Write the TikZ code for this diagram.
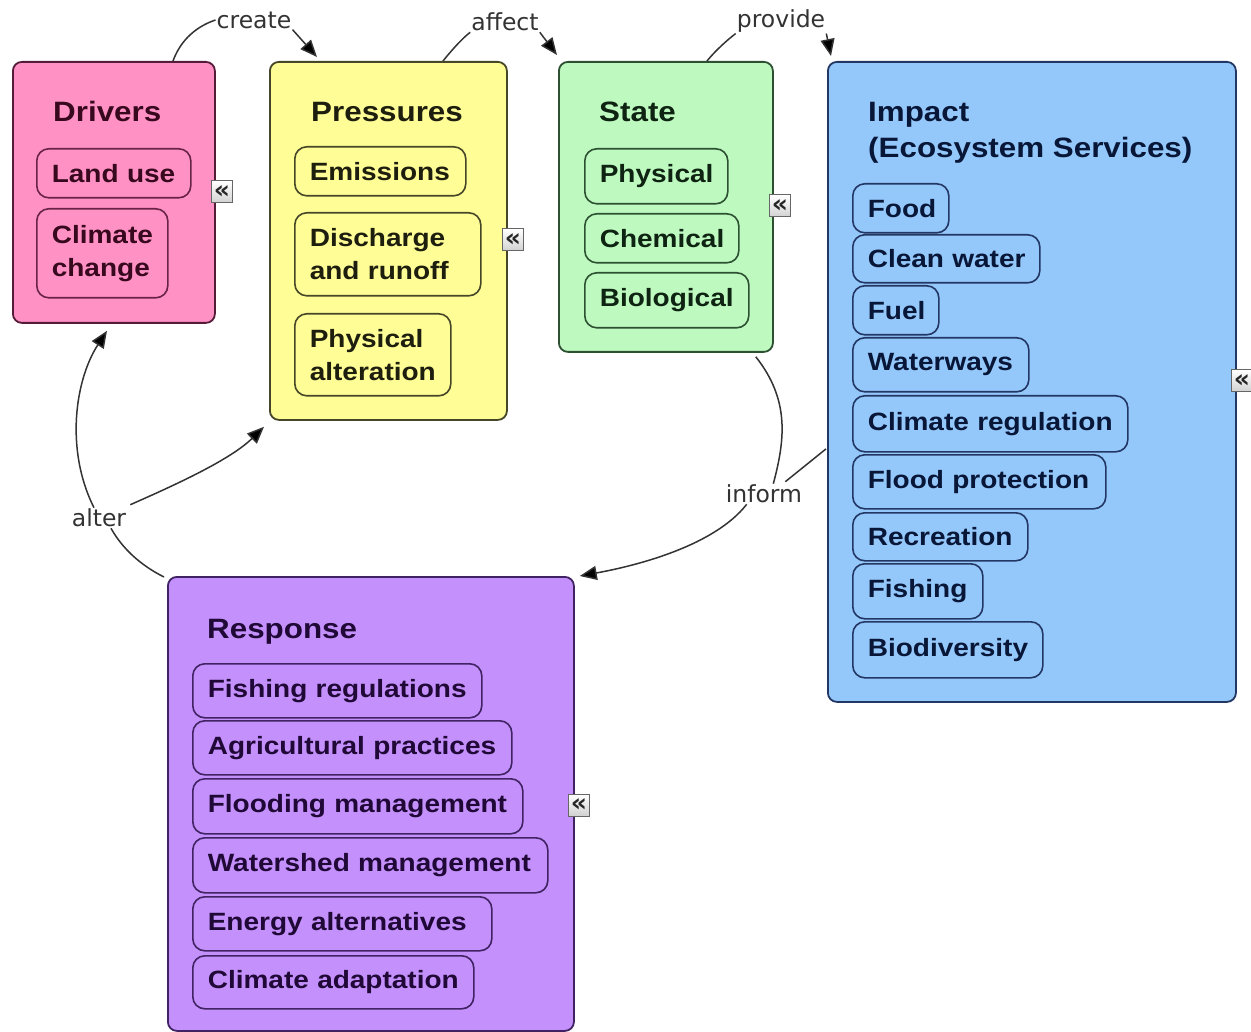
\documentclass[tikz,border=0pt]{standalone}
\usepackage{fontspec}
\setmainfont{Liberation Sans}[FakeStretch=1.12]
\newfontfamily\lblfont{DejaVu Sans}
\usetikzlibrary{arrows.meta,calc}
\hyphenpenalty=10000
\exhyphenpenalty=10000
\definecolor{drvfill}{RGB}{255,145,196}
\definecolor{drvline}{RGB}{105,35,70}
\definecolor{drvtext}{RGB}{55,8,30}
\definecolor{prsfill}{RGB}{255,253,150}
\definecolor{prsline}{RGB}{70,70,40}
\definecolor{prstext}{RGB}{30,30,15}
\definecolor{stafill}{RGB}{190,250,192}
\definecolor{staline}{RGB}{45,80,50}
\definecolor{statext}{RGB}{15,35,18}
\definecolor{impfill}{RGB}{148,199,250}
\definecolor{impline}{RGB}{35,55,100}
\definecolor{imptext}{RGB}{8,22,55}
\definecolor{resfill}{RGB}{196,145,252}
\definecolor{resline}{RGB}{65,35,100}
\definecolor{restext}{RGB}{32,8,55}
\tikzset{
  bigbox/.style={draw, line width=1.8pt, rounded corners=9pt, anchor=north west, inner sep=0pt},
  item/.style={draw, line width=1.6pt, rounded corners=12pt, anchor=north west, inner sep=0pt, align=left, font=\bfseries\fontsize{25}{33}\selectfont},
  iw/.style={minimum width=#1, text width=#1-30pt},
  ttl/.style={anchor=base west, inner sep=0pt, font=\bfseries\fontsize{28}{36}\selectfont},
  fold/.style={draw=black!60, top color=white, bottom color=black!18, line width=1pt, minimum width=21pt, minimum height=22pt, inner sep=0pt, font=\lblfont\bfseries\fontsize{25}{25}\selectfont, text=black!85},
  lbl/.style={font=\lblfont\fontsize{23.5}{24}\selectfont, text=black!80, inner sep=1pt},
  conn/.style={draw=black!80, line width=1.5pt},
  arr/.style={conn, -{Triangle[length=17pt,width=14pt,fill=black]}},
  drvitem/.style={item, fill=drvfill, draw=drvline, text=drvtext},
  prsitem/.style={item, fill=prsfill, draw=prsline, text=prstext},
  staitem/.style={item, fill=stafill, draw=staline, text=statext},
  impitem/.style={item, fill=impfill, draw=impline, text=imptext},
  resitem/.style={item, fill=resfill, draw=resline, text=restext},
}
\begin{document}
\begin{tikzpicture}[x=1pt,y=-1pt]
\fill[white] (0,0) rectangle (1251,1032);
\useasboundingbox (0,0) rectangle (1251,1032);

% Drivers
\node[bigbox, fill=drvfill, draw=drvline!80!black, minimum width=202pt, minimum height=261pt] (drivers) at (12,61) {};
\node[ttl, text=drvtext] (tdrv) at (53,122) {Drivers};
\node[drvitem, iw=154pt, minimum height=49pt] (d1) at (36,148) {\mbox{Land use}};
\node[drvitem, iw=131pt, minimum height=89pt] (d2) at (36,208) {Climate\\change};
\node[fold] (fdrv) at (222,192) {«};

% Pressures
\node[bigbox, fill=prsfill, draw=prsline, minimum width=237pt, minimum height=358pt] (pressures) at (269,61) {};
\node[ttl, text=prstext] (tprs) at (311,122) {Pressures};
\node[prsitem, iw=171pt, minimum height=49pt] (p1) at (294,146) {\mbox{Emissions}};
\node[prsitem, iw=186pt, minimum height=83pt] (p2) at (294,212) {\mbox{Discharge}\\\mbox{and runoff}};
\node[prsitem, iw=156pt, minimum height=82pt] (p3) at (294,313) {\mbox{Physical}\\\mbox{alteration}};
\node[fold] (fprs) at (513,240) {«};

% State
\node[bigbox, fill=stafill, draw=staline, minimum width=214pt, minimum height=290pt] (state) at (558,61) {};
\node[ttl, text=statext] (tsta) at (599,122) {State};
\node[staitem, iw=143pt, minimum height=55pt] (s1) at (584,148) {\mbox{Physical}};
\node[staitem, iw=154pt, minimum height=49pt] (s2) at (584,213) {\mbox{Chemical}};
\node[staitem, iw=164pt, minimum height=55pt] (s3) at (584,272) {\mbox{Biological}};
\node[fold] (fsta) at (780,206) {«};

% Impact
\node[bigbox, fill=impfill, draw=impline, minimum width=408pt, minimum height=640pt] (impact) at (827,61) {};
\node[ttl, text=imptext] (timp1) at (868,122) {Impact};
\node[ttl, text=imptext] (timp2) at (868,158) {(Ecosystem Services)};
\node[impitem, iw=96pt, minimum height=49pt] (i1) at (852,183) {\mbox{Food}};
\node[impitem, iw=187pt, minimum height=48pt] (i2) at (852,234) {\mbox{Clean water}};
\node[impitem, iw=86pt, minimum height=49pt] (i3) at (852,285) {\mbox{Fuel}};
\node[impitem, iw=176pt, minimum height=54pt] (i4) at (852,337) {\mbox{Waterways}};
\node[impitem, iw=275pt, minimum height=56pt] (i5) at (852,395) {\mbox{Climate regulation}};
\node[impitem, iw=253pt, minimum height=54pt] (i6) at (852,454) {\mbox{Flood protection}};
\node[impitem, iw=175pt, minimum height=48pt] (i7) at (852,512) {\mbox{Recreation}};
\node[impitem, iw=130pt, minimum height=55pt] (i8) at (852,563) {\mbox{Fishing}};
\node[impitem, iw=190pt, minimum height=56pt] (i9) at (852,621) {\mbox{Biodiversity}};
\node[fold] (fimp) at (1242,381) {«};

% Response
\node[bigbox, fill=resfill, draw=resline, minimum width=406pt, minimum height=454pt] (response) at (167,576) {};
\node[ttl, text=restext] (tres) at (207,638) {Response};
\node[resitem, iw=289pt, minimum height=54pt] (r1) at (192,663) {\mbox{Fishing regulations}};
\node[resitem, iw=319pt, minimum height=54pt] (r2) at (192,720) {\mbox{Agricultural practices}};
\node[resitem, iw=330pt, minimum height=55pt] (r3) at (192,778) {\mbox{Flooding management}};
\node[resitem, iw=355pt, minimum height=55pt] (r4) at (192,837) {\mbox{Watershed management}};
\node[resitem, iw=299pt, minimum height=54pt] (r5) at (192,896) {\mbox{Energy alternatives}};
\node[resitem, iw=281pt, minimum height=53pt] (r6) at (192,955) {\mbox{Climate adaptation}};
\node[fold] (fres) at (579,805) {«};

% Labels
\node[lbl] (lcreate) at (254,20) {create};
\node[lbl] (laffect) at (505,22) {affect};
\node[lbl] (lprovide) at (781,21) {provide};
\node[lbl] (linform) at (764,494) {inform};
\node[lbl] (lalter) at (99,518) {alter};

% create
\draw[conn] ($(drivers.north west)+(161,0)$) .. controls +(8,-22) and +(-18,6) .. (lcreate.west);
\draw[arr] (lcreate.south east) -- ($(pressures.north west)+(48,-4)$);
% affect
\draw[conn] ($(pressures.north west)+(174,0)$) .. controls +(8,-10) and +(-8,6) .. (laffect.south west);
\draw[arr] (laffect.south east) -- ($(state.north west)+(-1,-6)$);
% provide
\draw[conn] ($(state.north west)+(149,0)$) .. controls +(8,-10) and +(-8,6) .. (lprovide.south west);
\draw[arr] (lprovide.south east) -- ($(impact.north west)+(4,-5)$);
% inform
\draw[conn] ($(state.south east)+(-18,4)$) .. controls (790,400) and (785,440) .. ($(linform.north east)+(-30,0)$);
\draw[conn] ($(impact.west)+(-1,67)$) -- ($(linform.north east)+(-18,-2)$);
\draw[arr] ($(linform.south west)+(22,0)$) .. controls (715,545) and (640,565) .. ($(response.north east)+(5,0)$);
% alter
\draw[conn] ($(response.north west)+(-3,1)$) .. controls (140,565) and (122,548) .. ($(lalter.south)+(12,0)$);
\draw[arr] ($(lalter.north)+(-5,0)$) .. controls (65,450) and (75,380) .. ($(drivers.south west)+(95,7)$);
\draw[arr] ($(lalter.north east)+(3,-3)$) .. controls (175,485) and (230,460) .. ($(pressures.south west)+(-5,6)$);
\end{tikzpicture}
\end{document}
